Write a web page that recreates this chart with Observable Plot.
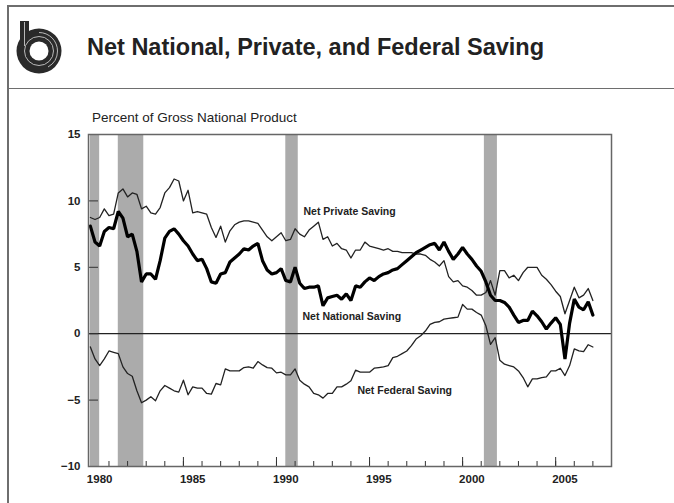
<!DOCTYPE html>
<html>
<head>
<meta charset="utf-8">
<script src="https://cdn.jsdelivr.net/npm/d3@7"></script>
<script src="https://cdn.jsdelivr.net/npm/@observablehq/plot@0.6"></script>
<style>
  html, body { margin: 0; padding: 0; background: #fff; }
  #page { position: relative; width: 674px; height: 503px; overflow: hidden; background: #fff; font-family: "Liberation Sans", Arial, sans-serif; }
  .rule { position: absolute; background: #6e6e6e; }
  #title { position: absolute; left: 87px; top: 34px; font-size: 23.5px; font-weight: bold; color: #222; white-space: nowrap; }
  #ylabel { position: absolute; left: 92px; top: 110px; font-size: 13.5px; color: #222; white-space: nowrap; }
  #logo { position: absolute; left: 0; top: 0; }
  #chart { position: absolute; left: 0; top: 90px; }
</style>
</head>
<body>
<div id="page">
  <div class="rule" style="left:7px;top:5px;width:667px;height:1.5px"></div>
  <div class="rule" style="left:7px;top:5px;width:1.5px;height:498px"></div>
  <div class="rule" style="left:7px;top:87.5px;width:667px;height:1.5px"></div>
  <svg id="logo" width="80" height="85" viewBox="0 0 80 85">
    <circle cx="39" cy="51" r="22.5" fill="#2a2a2a"/>
    <rect x="20" y="21" width="9" height="28" fill="#2a2a2a"/>
    <circle cx="39" cy="51" r="9.5" fill="#fff"/>
    <circle cx="39" cy="51" r="14.5" fill="none" stroke="#c8c8c8" stroke-width="0.9"/>
    <path d="M24.5 22 V46" stroke="#c8c8c8" stroke-width="0.9" fill="none"/>
    <path d="M39 32.5 A18.5 18.5 0 0 1 57.5 51 A18.5 18.5 0 0 1 48 67" stroke="#c8c8c8" stroke-width="0.9" fill="none"/>
  </svg>
  <div id="title">Net National, Private, and Federal Saving</div>
  <div id="ylabel">Percent of Gross National Product</div>
  <div id="chart"></div>
</div>
<script>
// Quarterly series, 1980Q1 .. 2007Q1 (percent of GNP)
const firstYear = 1980;
const national = [
  8.1, 6.9, 6.6, 7.7,   8.0, 7.9, 9.2, 8.7,   7.3, 7.5, 6.2, 3.9,   4.5, 4.5, 4.1, 5.5,
  7.2, 7.7, 7.9, 7.5,   7.0, 6.6, 6.0, 5.5,   5.6, 4.9, 3.9, 3.8,   4.5, 4.6, 5.4, 5.7,
  6.0, 6.4, 6.3, 6.6,   6.8, 5.5, 4.8, 4.5,   4.6, 4.9, 4.0, 3.9,   5.0, 3.8, 3.4, 3.5,
  3.5, 3.6, 2.1, 2.7,   2.8, 2.9, 2.6, 3.0,   2.5, 3.6, 3.5, 3.9,   4.2, 4.0, 4.3, 4.5,
  4.6, 4.8, 4.9, 5.2,   5.5, 5.8, 6.1, 6.3,   6.5, 6.7, 6.8, 6.3,   6.9, 6.2, 5.6, 6.0,
  6.5, 6.0, 5.6, 5.1,   4.7, 3.9, 2.9, 2.5,   2.5, 2.35, 2.0, 1.4,  0.85, 1.0, 1.0, 1.7,
  1.35, 0.9, 0.35, 0.8, 1.2, 0.7, -1.9, 0.8,  2.6, 2.0, 1.8, 2.4,   1.4
];
const privateSaving = [
  8.75, 8.6, 8.75, 9.4, 8.9, 9.0, 10.6, 10.9, 10.3, 10.6, 10.5, 9.4, 9.6, 9.1, 9.0, 9.5,
  10.6, 11.0, 11.65, 11.5, 10.0, 10.8, 9.1, 9.2, 9.1, 9.0, 8.0, 7.25, 8.1, 6.9, 7.75, 8.2,
  8.4, 8.5, 8.5, 8.4,   8.3, 7.8, 7.3, 7.0,   7.3, 7.6, 7.0, 7.1,   7.9, 7.5, 7.3, 7.8,
  8.1, 8.4, 7.1, 7.3,   6.6, 6.8, 6.4, 6.3,   5.7, 6.3, 6.3, 6.9,   6.6, 6.5, 6.4, 6.3,
  6.4, 6.2, 6.2, 6.1,   6.1, 6.1, 6.0, 6.0,   5.9, 5.6, 5.4, 5.1,   5.5, 4.3, 3.9, 4.0,
  3.6, 3.5, 3.25, 2.9,  2.9, 3.1, 4.0, 2.9,   4.75, 4.75, 4.2, 4.4, 4.0, 4.6, 5.0, 5.0,
  5.0, 4.4, 4.1, 3.7,   3.2, 2.8, 1.5, 2.5,   3.5, 2.7, 2.9, 3.4,   2.5
];
const federal = [
  -1.0, -1.9, -2.4, -1.9,  -1.3, -1.4, -1.5, -2.5,  -3.0, -3.2, -4.3, -5.2,  -5.0, -4.75, -5.05, -4.3,
  -3.9, -4.1, -4.3, -4.4,  -3.5, -4.6, -4.0, -4.1,  -4.1, -4.5, -4.55, -3.75, -3.85, -2.65, -2.8, -2.8,
  -2.8, -2.55, -2.5, -2.6, -2.1, -2.35, -2.55, -2.6, -2.95, -2.9, -3.1, -3.1,  -2.65, -3.5, -3.8, -4.0,
  -4.5, -4.6, -4.85, -4.5, -4.5, -4.0, -4.0, -3.8,  -3.55, -2.75, -2.9, -2.9, -2.9, -2.6, -2.55, -2.5,
  -2.4, -1.8, -1.7, -1.5,  -1.3, -0.9, -0.4, -0.15,  0.2, 0.7, 0.85, 0.9,    1.1, 1.15, 1.2, 1.25,
  2.2, 1.85, 1.85, 1.6,    1.4, 0.6, -0.8, -0.3,    -2.0, -2.3, -2.4, -2.5,  -2.8, -3.3, -4.0, -3.4,
  -3.4, -3.3, -3.25, -2.8, -2.8, -2.6, -3.15, -2.4, -1.15, -1.3, -1.35, -0.83, -1.0
];
// Recessions (start, end) in decimal years
const recessionStart = [1980.0, 1981.5, 1990.5, 2001.17];
const recessionEnd   = [1980.5, 1982.87, 1991.17, 2001.87];
// Axis ticks
const yTicks = [15, 10, 5, 0, -5, -10];
const yearTicks = d3.range(1981, 2008);
const majorYears = [1985, 1990, 1995, 2000, 2005];
const yearLabels = [1980, 1985, 1990, 1995, 2000, 2005];
// Series labels
const labelText = ["Net Private Saving", "Net National Saving", "Net Federal Saving"];
const labelX = [1991.45, 1991.4, 1994.35];
const labelY = [9.2, 1.3, -4.3];

const toRows = (vals) => vals.map((v, i) => ({t: firstYear + i / 4, v}));
const natRows = toRows(national);
const privRows = toRows(privateSaving);
const fedRows = toRows(federal);
const recessions = recessionStart.map((s, i) => ({s, e: recessionEnd[i]}));
const labels = labelText.map((text, i) => ({text, x: labelX[i], y: labelY[i]}));

const chart = Plot.plot({
  width: 674,
  height: 413,
  marginLeft: 88,
  marginRight: 63,
  marginTop: 44,
  marginBottom: 37,
  style: {fontFamily: "'Liberation Sans', Arial, sans-serif", background: "transparent", color: "#222"},
  x: {domain: [1979.9, 2008]},
  y: {domain: [-10, 15]},
  marks: [
    Plot.rect(recessions, {x1: "s", x2: "e", fill: "#ababab"}),
    Plot.ruleY([0], {stroke: "#222", strokeWidth: 1.3}),
    Plot.line(privRows, {x: "t", y: "v", stroke: "#222", strokeWidth: 1.3}),
    Plot.line(fedRows, {x: "t", y: "v", stroke: "#222", strokeWidth: 1.3}),
    Plot.line(natRows, {x: "t", y: "v", stroke: "#000", strokeWidth: 3.2, strokeLinejoin: "miter"}),
    Plot.axisY({ticks: yTicks, tickSize: -10, tickPadding: 18, label: null, fontWeight: "bold", fontSize: 11.5, stroke: "#333"}),
    Plot.axisX({ticks: yearTicks, tickSize: -5, tickFormat: () => "", label: null, stroke: "#333"}),
    Plot.axisX({ticks: majorYears, tickSize: -9, tickFormat: () => "", label: null, stroke: "#333"}),
    Plot.axisX({ticks: yearLabels.map(y => y + 0.5), tickSize: 0, tickPadding: 8, tickFormat: d => String(Math.floor(d)), label: null, fontWeight: "bold", fontSize: 11.5}),
    Plot.text(labels, {x: "x", y: "y", text: "text", textAnchor: "start", fontWeight: "bold", fontSize: 10.5, fill: "#222"}),
    Plot.frame({stroke: "#666", strokeWidth: 1.5})
  ]
});
document.getElementById("chart").appendChild(chart);
</script>
</body>
</html>
